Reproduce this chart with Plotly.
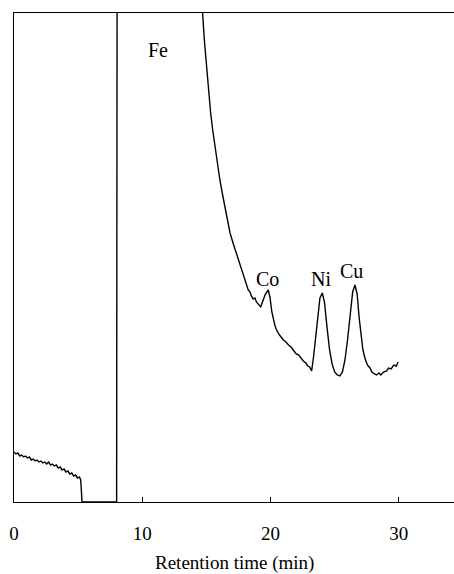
import plotly.graph_objects as go

# Retention time (min) and detector response (arbitrary units, axis spans 0-489)
pre_t = [0.0, 0.15, 0.3, 0.45, 0.6, 0.75, 0.9, 1.05, 1.2, 1.35, 1.5, 1.65, 1.8, 1.95,
         2.1, 2.25, 2.4, 2.55, 2.7, 2.85, 3.0, 3.15, 3.3, 3.45, 3.6, 3.75, 3.9, 4.05,
         4.2, 4.35, 4.5, 4.65, 4.8, 4.95, 5.1, 5.2, 5.25, 5.3]
pre_y = [50, 48, 49, 46, 47, 45, 46, 44, 45, 42, 43, 41, 42, 40,
         41, 39, 40, 38, 40, 37, 38, 36, 37, 34, 35, 32, 33, 30,
         31, 28, 29, 26, 27, 24, 25, 22, 12, 0]

gap_t = [8.0, 8.02, 8.05, 14.5]
gap_y = [0, 300, 700, 700]

tail_t = [14.7, 14.85, 15.0, 15.15, 15.33, 15.5, 15.67, 15.85, 16.05, 16.25, 16.45,
          16.65, 16.84, 17.1, 17.36, 17.6, 17.87, 18.05, 18.26, 18.4, 18.5, 18.65,
          18.78, 18.9, 19.05, 19.23, 19.4, 19.6, 19.82, 19.95, 20.1, 20.2, 20.35,
          20.47, 20.7, 21.0, 21.2, 21.4, 21.6, 21.77, 22.0, 22.2, 22.4, 22.55, 22.75,
          22.9, 23.05, 23.2, 23.35, 23.5, 23.7, 23.85, 24.03, 24.2, 24.4, 24.6, 24.8,
          25.0, 25.2, 25.4, 25.6, 25.8, 26.0, 26.2, 26.4, 26.58, 26.75, 26.9, 27.05,
          27.2, 27.4, 27.55, 27.75, 27.9, 28.1, 28.27, 28.45, 28.6, 28.8, 29.05, 29.2,
          29.4, 29.6, 29.8, 29.95]
tail_y = [489, 460, 435, 411, 389, 371, 355, 338, 322, 308, 295,
          281, 269, 258, 248, 239, 229, 220, 212, 210, 206, 203,
          204, 200, 198, 195, 201, 208, 212, 205, 190, 184, 176,
          172, 167, 162, 160, 157, 155, 152, 148, 147, 143, 141, 139,
          136, 135, 131, 145, 165, 190, 204, 209, 200, 175, 152, 138,
          130, 127, 126, 130, 142, 162, 188, 210, 217, 208, 185, 165,
          152, 142, 137, 134, 130, 128, 127, 129, 127, 130, 131, 134,
          133, 137, 136, 140]

labels = ["Fe", "Co", "Ni", "Cu"]
label_t = [11.2, 19.73, 23.91, 26.29]
label_y = [452, 223, 223, 231]

x_ticks = [0, 10, 20, 30]
x_title = "Retention time (min)"

t = pre_t + gap_t + tail_t
y = pre_y + gap_y + tail_y

FONT = "'Liberation Serif', 'Times New Roman', Times, serif"

fig = go.Figure()
fig.add_trace(go.Scatter(x=t, y=y, mode="lines",
                         line=dict(color="black", width=1.4),
                         showlegend=False, hoverinfo="skip"))

for lab, lx, ly in zip(labels, label_t, label_y):
    fig.add_annotation(x=lx, y=ly, text=lab, showarrow=False,
                       font=dict(family=FONT, size=20, color="black"),
                       xanchor="center", yanchor="middle")

# axis title placed as a paper-anchored annotation
fig.add_annotation(x=0.5, y=-0.1245, xref="paper", yref="paper", text=x_title,
                   showarrow=False, font=dict(family=FONT, size=19, color="black"),
                   xanchor="center", yanchor="middle")

fig.update_layout(
    width=454, height=574,
    margin=dict(l=14, r=0, t=13, b=72, autoexpand=False),
    paper_bgcolor="white", plot_bgcolor="white",
    font=dict(family=FONT, size=19, color="black"),
    xaxis=dict(range=[0, 34.3], tickvals=x_ticks, ticktext=[str(v) for v in x_ticks],
               ticks="inside", ticklen=5, tickcolor="black", tickwidth=1,
               showline=True, linecolor="black", linewidth=1.3, mirror=True,
               showgrid=False, zeroline=False, automargin=False,
               ticklabelstandoff=14),
    yaxis=dict(range=[0, 489], showticklabels=False, ticks="",
               showline=True, linecolor="black", linewidth=1.3,
               showgrid=False, zeroline=False, automargin=False),
)

fig.write_html("out.html", config={"displayModeBar": False},
               post_script="document.body.style.margin='0';document.body.style.padding='0';")
